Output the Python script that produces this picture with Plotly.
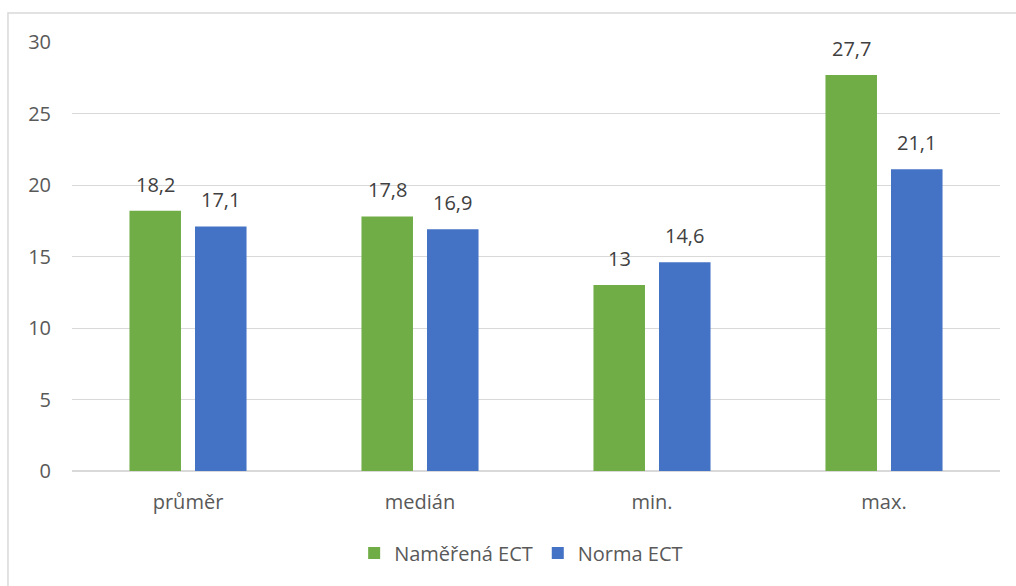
import plotly.graph_objects as go

categories = ["průměr", "medián", "min.", "max."]
namerena_ect = [18.2, 17.8, 13, 27.7]
norma_ect = [17.1, 16.9, 14.6, 21.1]
series_names = ["Naměřená ECT", "Norma ECT"]
y_ticks = [0, 5, 10, 15, 20, 25, 30]

FONT = "Open Sans"
GRID = "#d9d9d9"
SIZE = 20

# bar slot offset within a category group (pixels), matches bargap/bargroupgap
SLOT_SHIFT = 32.75

fig = go.Figure()
annotations = []
for i, (name, vals, color) in enumerate([
    (series_names[0], namerena_ect, "#70AD47"),
    (series_names[1], norma_ect, "#4472C4"),
]):
    fig.add_trace(go.Bar(
        x=categories, y=vals, name=name,
        marker=dict(color=color, line=dict(width=0)),
    ))
    for cat, v in zip(categories, vals):
        annotations.append(dict(
            x=cat, y=v, xref="x", yref="y",
            text=f"{v:g}".replace(".", ","), showarrow=False,
            xshift=(-SLOT_SHIFT if i == 0 else SLOT_SHIFT),
            yanchor="bottom", yshift=11,
            font=dict(family=FONT, size=SIZE, color="#404040"),
        ))

fig.update_layout(
    width=1016, height=586,
    margin=dict(l=72, r=16, t=42, b=115),
    paper_bgcolor="white", plot_bgcolor="white",
    barmode="group", bargap=0.435, bargroupgap=0.214,
    font=dict(family=FONT, size=SIZE, color="#595959"),
    showlegend=True,
    legend=dict(
        orientation="h", x=0.484, xanchor="center", y=-0.191, yanchor="middle",
        font=dict(family=FONT, size=SIZE, color="#595959"),
        itemsizing="constant", tracegroupgap=0,
    ),
    xaxis=dict(
        showgrid=False, showline=True, linecolor=GRID, linewidth=1,
        ticks="", ticklabelstandoff=13,
        tickfont=dict(family=FONT, size=SIZE, color="#595959"),
    ),
    yaxis=dict(
        range=[0, 30], tickvals=y_ticks, showgrid=True, gridcolor=GRID,
        gridwidth=1, zeroline=True, zerolinecolor=GRID, showline=False,
        ticks="", ticklabelstandoff=20,
        tickfont=dict(family=FONT, size=SIZE, color="#595959"),
    ),
    annotations=annotations,
    shapes=[dict(
        type="rect", xref="paper", yref="paper",
        x0=-0.069, x1=1.03, y0=-0.29, y1=1.0676,
        line=dict(color=GRID, width=1.5), fillcolor="rgba(0,0,0,0)",
        layer="below",
    )],
)

fig.write_html("out.html")
